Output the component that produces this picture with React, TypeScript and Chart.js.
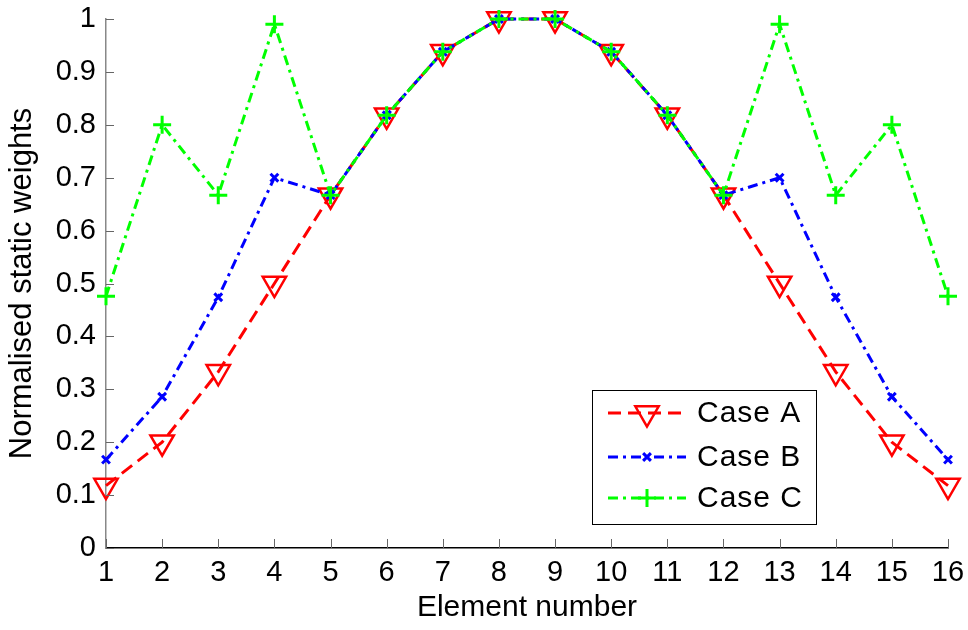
import React, { useEffect, useRef } from "react";
import { Chart, registerables } from "chart.js";
import { drawPoint } from "chart.js/helpers";
Chart.register(...registerables);

const elements = [1, 2, 3, 4, 5, 6, 7, 8, 9, 10, 11, 12, 13, 14, 15, 16];
const caseA = [0.118, 0.2, 0.333, 0.5, 0.667, 0.818, 0.938, 1, 1, 0.938, 0.818, 0.667, 0.5, 0.333, 0.2, 0.118];
const caseB = [0.167, 0.286, 0.474, 0.7, 0.667, 0.818, 0.938, 1, 1, 0.938, 0.818, 0.667, 0.7, 0.474, 0.286, 0.167];
const caseC = [0.476, 0.8, 0.667, 0.99, 0.667, 0.818, 0.938, 1, 1, 0.938, 0.818, 0.667, 0.99, 0.667, 0.8, 0.476];
const seriesNames = ["Case A", "Case B", "Case C"];
const yTicks = [0, 0.1, 0.2, 0.3, 0.4, 0.5, 0.6, 0.7, 0.8, 0.9, 1];

const FONT = "'Liberation Sans', Arial, sans-serif";

const insideTicks = {
  id: "insideTicks",
  afterDraw(chart: any) {
    const ctx = chart.ctx;
    const { left, bottom } = chart.chartArea;
    const xs = chart.scales.x;
    const ys = chart.scales.y;
    ctx.save();
    ctx.strokeStyle = "#666";
    ctx.lineWidth = 1;
    ctx.beginPath();
    yTicks.forEach((v) => {
      const p = Math.round(ys.getPixelForValue(v)) + 0.5;
      ctx.moveTo(left, p);
      ctx.lineTo(left + 8, p);
    });
    elements.forEach((v) => {
      const p = Math.round(xs.getPixelForValue(v)) + 0.5;
      ctx.moveTo(p, bottom);
      ctx.lineTo(p, bottom - 9);
    });
    ctx.stroke();
    ctx.restore();
  },
};

const boxLegend = {
  id: "boxLegend",
  afterDraw(chart: any) {
    const ctx = chart.ctx;
    const bx = 592, by = 390, bw = 224, bh = 134;
    const rows = [413, 457, 498];
    ctx.save();
    ctx.fillStyle = "#fff";
    ctx.fillRect(bx, by, bw, bh);
    ctx.strokeStyle = "#000";
    ctx.lineWidth = 1;
    ctx.strokeRect(bx + 0.5, by + 0.5, bw, bh);
    chart.data.datasets.forEach((ds: any, i: number) => {
      const y = rows[i];
      ctx.save();
      ctx.strokeStyle = ds.borderColor;
      ctx.lineWidth = ds.borderWidth;
      ctx.setLineDash(ds.borderDash);
      ctx.beginPath();
      ctx.moveTo(608, y);
      ctx.lineTo(686, y);
      ctx.stroke();
      ctx.restore();
      ctx.save();
      ctx.strokeStyle = ds.pointBorderColor;
      ctx.fillStyle = ds.pointBackgroundColor;
      ctx.lineWidth = ds.pointBorderWidth;
      drawPoint(ctx, { pointStyle: ds.pointStyle, rotation: ds.pointRotation, radius: ds.pointRadius, borderWidth: ds.pointBorderWidth } as any, 647, y);
      ctx.restore();
      ctx.save();
      ctx.fillStyle = "#000";
      ctx.font = `30px ${FONT}`;
      (ctx as any).letterSpacing = "1px";
      ctx.textBaseline = "middle";
      ctx.textAlign = "left";
      ctx.fillText(ds.label, 697, y + 1);
      ctx.restore();
    });
    ctx.restore();
  },
};

export default function App() {
  const ref = useRef<HTMLCanvasElement>(null);
  useEffect(() => {
    document.body.style.margin = "0";
    const mk = (v: number[]) => elements.map((x, i) => ({ x, y: v[i] }));
    const chart = new Chart(ref.current!, {
      type: "line",
      data: {
        datasets: [
          {
            label: seriesNames[0],
            data: mk(caseA),
            borderColor: "#ff0000",
            borderWidth: 3,
            borderDash: [13, 7],
            pointStyle: "triangle",
            pointRotation: 180,
            pointRadius: 13.5,
            pointBorderWidth: 2.5,
            pointBorderColor: "#ff0000",
            pointBackgroundColor: "rgba(0,0,0,0)",
            clip: false,
            order: 3,
          } as any,
          {
            label: seriesNames[1],
            data: mk(caseB),
            borderColor: "#0000ff",
            borderWidth: 3,
            borderDash: [10, 5, 3, 5],
            pointStyle: "crossRot",
            pointRotation: 0,
            pointRadius: 5.5,
            pointBorderWidth: 3,
            pointBorderColor: "#0000ff",
            pointBackgroundColor: "#0000ff",
            clip: false,
            order: 2,
          } as any,
          {
            label: seriesNames[2],
            data: mk(caseC),
            borderColor: "#00ff00",
            borderWidth: 3,
            borderDash: [10, 5, 3, 5],
            pointStyle: "cross",
            pointRotation: 0,
            pointRadius: 9,
            pointBorderWidth: 3,
            pointBorderColor: "#00ff00",
            pointBackgroundColor: "#00ff00",
            clip: false,
            order: 1,
          } as any,
        ],
      },
      options: {
        responsive: false,
        animation: false,
        layout: { padding: { top: 19, right: 20, left: 0, bottom: 0 } },
        plugins: { legend: { display: false }, tooltip: { enabled: false } },
        scales: {
          x: {
            type: "linear",
            min: 1,
            max: 16,
            afterFit: (s: any) => { s.height = 82; s.paddingLeft = 0; s.paddingRight = 0; },
            afterBuildTicks: (s: any) => { s.ticks = elements.map((v) => ({ value: v })); },
            ticks: { color: "#000", font: { size: 29, family: FONT }, padding: 8, maxRotation: 0, autoSkip: false },
            grid: { drawOnChartArea: false, drawTicks: false },
            border: { color: "#000", width: 1.5 },
            title: { display: true, text: "Element number", color: "#000", font: { size: 30, family: FONT }, padding: { top: 0, bottom: 4 } },
          },
          y: {
            type: "linear",
            min: 0,
            max: 1,
            afterFit: (s: any) => { s.width = 106; s.paddingTop = 0; s.paddingBottom = 0; },
            afterBuildTicks: (s: any) => { s.ticks = yTicks.map((v) => ({ value: v })); },
            ticks: { color: "#000", font: { size: 29, family: FONT }, padding: 10, callback: (v: any) => String(Math.round(v * 10) / 10) },
            grid: { drawOnChartArea: false, drawTicks: false },
            border: { color: "#888", width: 1.5 },
            title: { display: true, text: "Normalised static weights", color: "#000", font: { size: 31, family: FONT }, padding: { top: 4, bottom: 0 } },
          },
        },
      },
      plugins: [insideTicks, boxLegend],
    });
    return () => chart.destroy();
  }, []);
  return (
    <div style={{ width: 968, height: 630, background: "#fff" }}>
      <canvas ref={ref} width={968} height={630} />
    </div>
  );
}
